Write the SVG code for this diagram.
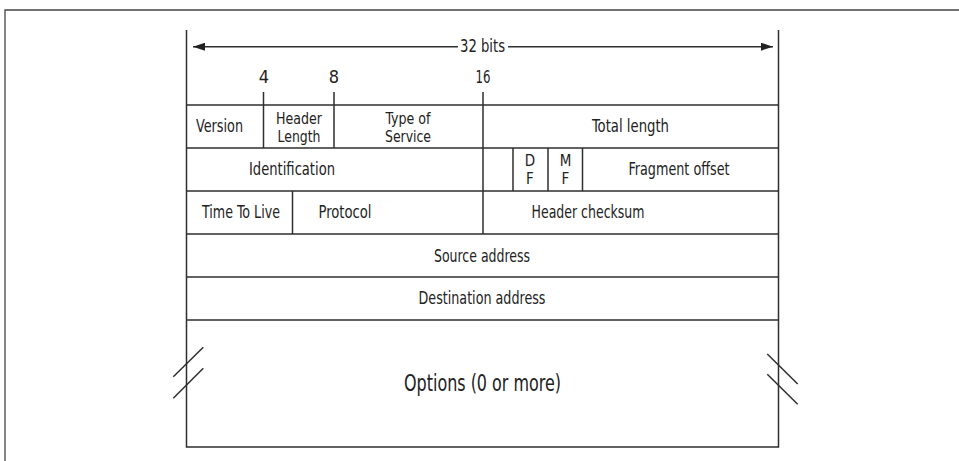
<svg xmlns="http://www.w3.org/2000/svg" width="959" height="461" viewBox="0 0 959 461">
<style>
.ln{stroke:#2e2e2e;stroke-width:1.5;fill:none}
.fr{stroke:#444;stroke-width:1.3;fill:none}
text{font-family:"DejaVu Sans Condensed","Liberation Sans",sans-serif;font-size:18px;fill:#222;text-anchor:middle}
.two{font-size:15px}
.big{font-size:23px}
</style>
<defs>
<marker id="ah" viewBox="0 0 12 8" refX="12" refY="4" markerWidth="12" markerHeight="8" markerUnits="userSpaceOnUse" orient="auto-start-reverse">
<path d="M0,0 L12,4 L0,8 Z" fill="#222"/>
</marker>
</defs>
<rect width="959" height="461" fill="#fff"/>
<g id="frame">
<path class="fr" d="M5,461 V10 H959"/>
</g>
<g id="connectors">
<line class="ln" x1="458" y1="46.7" x2="193" y2="46.7" marker-end="url(#ah)"/>
<line class="ln" x1="508" y1="46.7" x2="773" y2="46.7" marker-end="url(#ah)"/>
<line class="ln" x1="263.5" y1="92" x2="263.5" y2="105"/>
<line class="ln" x1="334" y1="92" x2="334" y2="105"/>
<line class="ln" x1="483" y1="92" x2="483" y2="105"/>
</g>
<g id="width-label">
<text x="482.5" y="52" textLength="45" lengthAdjust="spacingAndGlyphs">32 bits</text>
<text x="264" y="83">4</text>
<text x="334" y="83">8</text>
<text x="483" y="83" textLength="15" lengthAdjust="spacingAndGlyphs">16</text>
</g>
<g id="box">
<path class="ln" d="M186.5,30 V447 H778.5 V30"/>
<line class="ln" x1="186.5" y1="105" x2="778.5" y2="105"/>
<line class="ln" x1="186.5" y1="148" x2="778.5" y2="148"/>
<line class="ln" x1="186.5" y1="191" x2="778.5" y2="191"/>
<line class="ln" x1="186.5" y1="234" x2="778.5" y2="234"/>
<line class="ln" x1="186.5" y1="277" x2="778.5" y2="277"/>
<line class="ln" x1="186.5" y1="320" x2="778.5" y2="320"/>
</g>
<g id="version"><text x="219.5" y="132" textLength="47" lengthAdjust="spacingAndGlyphs">Version</text></g>
<g id="header-length">
<line class="ln" x1="263.5" y1="105" x2="263.5" y2="148"/>
<text class="two" x="299" y="124" textLength="46" lengthAdjust="spacingAndGlyphs">Header</text>
<text class="two" x="299" y="142" textLength="43" lengthAdjust="spacingAndGlyphs">Length</text>
</g>
<g id="type-of-service">
<line class="ln" x1="334" y1="105" x2="334" y2="148"/>
<text class="two" x="408" y="124" textLength="45" lengthAdjust="spacingAndGlyphs">Type of</text>
<text class="two" x="408" y="142" textLength="46" lengthAdjust="spacingAndGlyphs">Service</text>
</g>
<g id="total-length">
<line class="ln" x1="483" y1="105" x2="483" y2="148"/>
<text x="630.5" y="132" textLength="77" lengthAdjust="spacingAndGlyphs">Total length</text>
</g>
<g id="identification"><text x="292" y="175" textLength="86" lengthAdjust="spacingAndGlyphs">Identification</text></g>
<g id="flags">
<line class="ln" x1="483" y1="148" x2="483" y2="191"/>
<line class="ln" x1="513" y1="148" x2="513" y2="191"/>
</g>
<g id="df">
<line class="ln" x1="548" y1="148" x2="548" y2="191"/>
<text class="two" x="530" y="166">D</text><text class="two" x="530" y="184">F</text>
</g>
<g id="mf">
<line class="ln" x1="582.5" y1="148" x2="582.5" y2="191"/>
<text class="two" x="565.5" y="166">M</text><text class="two" x="565.5" y="184">F</text>
</g>
<g id="fragment-offset"><text x="679" y="175" textLength="101" lengthAdjust="spacingAndGlyphs">Fragment offset</text></g>
<g id="ttl"><text x="241" y="218" textLength="78" lengthAdjust="spacingAndGlyphs">Time To Live</text></g>
<g id="protocol">
<line class="ln" x1="292.5" y1="191" x2="292.5" y2="234"/>
<text x="345" y="218" textLength="53" lengthAdjust="spacingAndGlyphs">Protocol</text>
</g>
<g id="header-checksum">
<line class="ln" x1="483" y1="191" x2="483" y2="234"/>
<text x="588" y="218" textLength="113" lengthAdjust="spacingAndGlyphs">Header checksum</text>
</g>
<g id="source-address"><text x="482" y="261.5" textLength="96" lengthAdjust="spacingAndGlyphs">Source address</text></g>
<g id="destination-address"><text x="482" y="304" textLength="127" lengthAdjust="spacingAndGlyphs">Destination address</text></g>
<g id="options">
<text class="big" x="482.5" y="391" textLength="157" lengthAdjust="spacingAndGlyphs">Options (0 or more)</text>
<line class="ln" x1="203.3" y1="347.3" x2="173.3" y2="376.7"/>
<line class="ln" x1="203.3" y1="368.3" x2="173.3" y2="398.3"/>
<line class="ln" x1="767.3" y1="354" x2="797.7" y2="384"/>
<line class="ln" x1="767.3" y1="374.3" x2="797.7" y2="404.3"/>
</g>
</svg>
